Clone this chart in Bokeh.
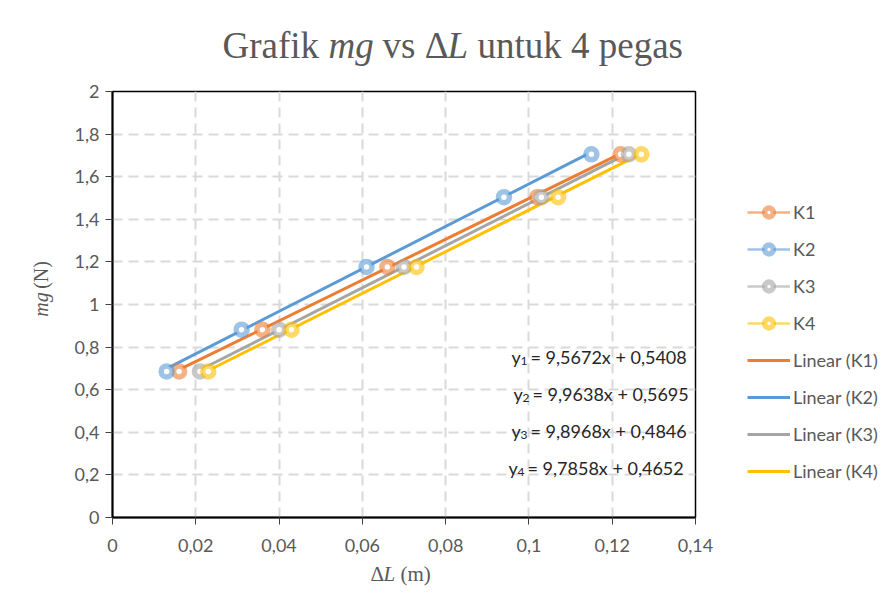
import math
from bokeh.plotting import figure
from bokeh.layouts import column, row
from bokeh.models import (Label, Legend, LegendItem, FixedTicker, CustomJSTickFormatter)
from bokeh.core.properties import value
from bokeh.embed import file_html
from bokeh.resources import INLINE

# ---------------- data ----------------
mg = [0.686, 0.882, 1.176, 1.504, 1.705]          # mg (N)
dL_K1 = [0.016, 0.036, 0.066, 0.102, 0.122]        # ΔL (m) spring K1
dL_K2 = [0.013, 0.031, 0.061, 0.094, 0.115]
dL_K3 = [0.021, 0.040, 0.070, 0.103, 0.124]
dL_K4 = [0.023, 0.043, 0.073, 0.107, 0.127]
series_names = ["K1", "K2", "K3", "K4"]
slopes = [9.5672, 9.9638, 9.8968, 9.7858]
intercepts = [0.5408, 0.5695, 0.4846, 0.4652]
x_ticks = [0, 0.02, 0.04, 0.06, 0.08, 0.10, 0.12, 0.14]
y_ticks = [0, 0.2, 0.4, 0.6, 0.8, 1.0, 1.2, 1.4, 1.6, 1.8, 2.0]

dL_all = [dL_K1, dL_K2, dL_K3, dL_K4]
colors = ["#ED7D31", "#5B9BD5", "#A5A5A5", "#FFC000"]

SANS = "Lato"
SERIF = "Liberation Serif"
GRAY = "#595959"

# ---------------- layout geometry (page pixels) ----------------
W, H = 884, 600
TOP_H = 80            # title strip
BOT_H = 44            # x-axis-title strip
MID_H = H - TOP_H - BOT_H
YL_W = 60             # y-axis-title strip
F_LEFT, F_RIGHT, F_TOP, F_BOTTOM = 112, 695, 91, 517
MAIN_R = 25
MAIN_W = F_RIGHT + MAIN_R - YL_W
LEG_W = W - YL_W - MAIN_W


def text_fig(w, h):
    f = figure(width=w, height=h, x_range=(0, w), y_range=(0, h), output_backend="svg",
               toolbar_location=None, x_axis_location=None, y_axis_location=None,
               min_border=0, title=None)
    f.outline_line_color = None
    f.background_fill_color = "white"
    f.border_fill_color = "white"
    f.grid.visible = False
    return f


def put_text(f, xs, ys, texts, size, font=SERIF, style="normal", color=GRAY, angle=0.0,
             align="left", baseline="alphabetic"):
    f.text(x=xs, y=ys, text=texts, text_font=value(font), text_font_size=value(f"{size}px"),
           text_font_style=style, text_color=color, text_align=align,
           text_baseline=baseline, angle=angle)


# ---------------- main plot ----------------
p = figure(width=MAIN_W, height=MID_H, x_range=(0, 0.14), y_range=(0, 2),
           output_backend="svg", toolbar_location=None, title=None,
           min_border_left=F_LEFT - YL_W, min_border_right=MAIN_R,
           min_border_top=F_TOP - TOP_H, min_border_bottom=TOP_H + MID_H - F_BOTTOM)
p.background_fill_color = "white"
p.border_fill_color = "white"
p.outline_line_color = "black"
p.outline_line_width = 1.5

fmt = CustomJSTickFormatter(code="return String(Math.round(tick*1000)/1000).replace('.', ',');")
for ax, ticks in ((p.xaxis[0], x_ticks), (p.yaxis[0], y_ticks)):
    ax.ticker = FixedTicker(ticks=ticks)
    ax.formatter = fmt
    ax.axis_line_color = "black"
    ax.axis_line_width = 2
    ax.major_tick_line_color = "#404040"
    ax.major_tick_line_width = 1
    ax.major_tick_out = 7
    ax.major_tick_in = 0
    ax.minor_tick_line_color = None
    ax.major_label_text_font = SANS
    ax.major_label_text_font_size = "18px"
    ax.major_label_text_color = GRAY
p.xaxis.major_label_standoff = 14
p.yaxis.major_label_standoff = 6

for g in (p.xgrid[0], p.ygrid[0]):
    g.grid_line_color = "#D9D9D9"
    g.grid_line_width = 2
    g.grid_line_dash = "10 6"

for dl, c, m, b in zip(dL_all, colors, slopes, intercepts):
    xs = [min(dl), max(dl)]
    p.line(xs, [m * x + b for x in xs], line_color=c, line_width=3)

for dl, c in zip(dL_all, colors):
    p.scatter(dl, mg, size=11, line_color=c, line_alpha=0.6, line_width=5.5,
              fill_color="white")

# trendline equations (inside the frame)
eq_x = [511, 513, 511, 508]
eq_y = [356, 393, 430, 467]


def lab(x, y, text, size, color="#262626"):
    p.add_layout(Label(x=x - F_LEFT, y=F_BOTTOM - y, x_units="screen", y_units="screen",
                       text=text, text_font=SANS, text_font_size=f"{size}px",
                       text_color=color, text_baseline="alphabetic"))


for i, (m, b) in enumerate(zip(slopes, intercepts)):
    x0, y0 = eq_x[i], eq_y[i]
    body = f"= {m:.4f}x + {b:.4f}".replace(".", ",")
    lab(x0, y0, "y", 18)
    lab(x0 + 9, y0 + 4, str(i + 1), 12)
    lab(x0 + 19, y0, body, 18)

# ---------------- legend strip ----------------
lg = figure(width=LEG_W, height=MID_H, x_range=(100, 101), y_range=(100, 101),
            output_backend="svg", toolbar_location=None, x_axis_location=None,
            y_axis_location=None, min_border=0, title=None)
lg.outline_line_color = None
lg.grid.visible = False
items_m, items_l = [], []
for name, dl, c, m, b in zip(series_names, dL_all, colors, slopes, intercepts):
    lr = lg.line(dl, mg, line_color=c, line_alpha=0.6, line_width=2.5)
    sr = lg.scatter(dl, mg, size=11, line_color=c, line_alpha=0.6, line_width=5.5,
                    fill_color="white")
    items_m.append(LegendItem(label=name, renderers=[lr, sr]))
    xs = [min(dl), max(dl)]
    tr = lg.line(xs, [m * x + b for x in xs], line_color=c, line_width=3)
    items_l.append(LegendItem(label=f"Linear ({name})", renderers=[tr]))

ROW, SP = 22, 15
legend = Legend(items=items_m + items_l,
                location=(747 - (YL_W + MAIN_W), 35),
                orientation="vertical", padding=0, margin=0, spacing=SP,
                glyph_width=43, glyph_height=ROW, label_height=ROW, label_standoff=3,
                label_text_font=SANS, label_text_font_size="18px",
                label_text_color=GRAY, border_line_alpha=0, background_fill_alpha=0)
lg.add_layout(legend)

# ---------------- title strip ----------------
tf = text_fig(W, TOP_H)
TB = TOP_H - 45
put_text(tf, [222, 382, 477], [TB, TB, TB], ["Grafik", "vs Δ", "untuk 4 pegas"], 37)
put_text(tf, [328, 447], [TB, TB], ["mg", "L"], 37, style="italic")

# ---------------- y-axis title strip ----------------
yf = text_fig(YL_W, MID_H)
put_text(yf, [40], [TOP_H + MID_H - 318], ["mg"], 20, style="italic", angle=math.pi / 2,
         align="center", baseline="middle")
put_text(yf, [40], [TOP_H + MID_H - 285], ["(N)"], 20, angle=math.pi / 2,
         align="center", baseline="middle")

# ---------------- x-axis title strip ----------------
xf = text_fig(W, BOT_H)
XB = H - 573
put_text(xf, [370, 400], [XB, XB], ["Δ", "(m)"], 21)
put_text(xf, [383], [XB], ["L"], 21, style="italic")

layout = column(tf, row(yf, p, lg), xf)
open("out.html", "w").write(file_html(layout, INLINE))
